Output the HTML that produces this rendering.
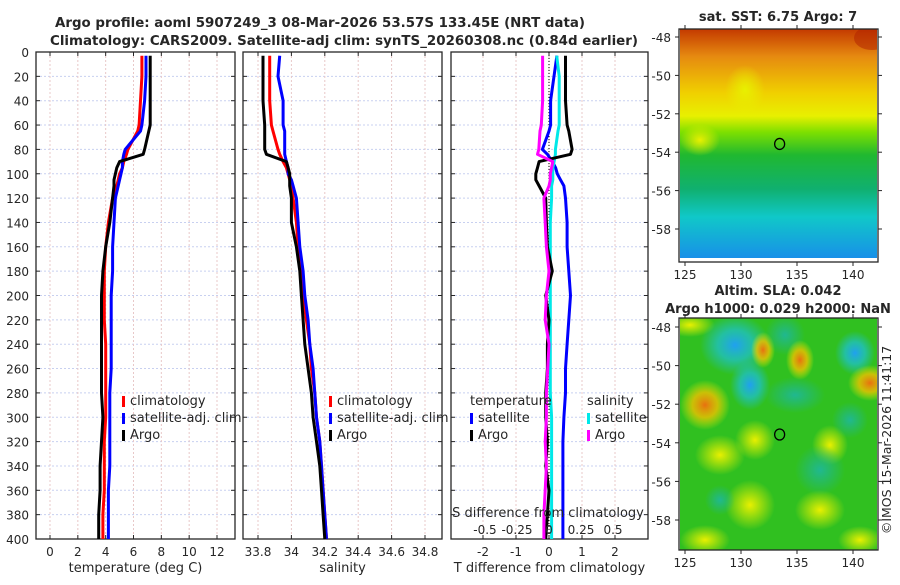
<!DOCTYPE html>
<html><head><meta charset="utf-8"><style>
body{margin:0;background:#fff;width:900px;height:580px;overflow:hidden;font-family:"Liberation Sans","DejaVu Sans",sans-serif}
svg text{font-family:"DejaVu Sans","Liberation Sans",sans-serif}
</style></head><body>
<svg id="c" width="900" height="580" viewBox="0 0 900 580">
<defs>
<clipPath id="clip1"><rect x="680" y="29" width="197" height="229"/></clipPath>
<clipPath id="clip2"><rect x="680" y="318" width="197" height="232"/></clipPath>
<linearGradient id="sstg" x1="0" y1="0" x2="0" y2="1">
<stop offset="0" stop-color="#c43a00"/><stop offset="0.12" stop-color="#e68a10"/><stop offset="0.28" stop-color="#f0d000"/><stop offset="0.38" stop-color="#e8f000"/><stop offset="0.45" stop-color="#7ee000"/><stop offset="0.55" stop-color="#20b830"/><stop offset="0.7" stop-color="#10b070"/><stop offset="0.82" stop-color="#10c8c8"/><stop offset="1" stop-color="#1890e8"/>
</linearGradient>
<radialGradient id="rb"><stop offset="0" stop-color="#20a0f0"/><stop offset="0.5" stop-color="#20c0c0" stop-opacity="0.8"/><stop offset="1" stop-color="#20c0c0" stop-opacity="0"/></radialGradient>
<radialGradient id="ro"><stop offset="0" stop-color="#e87010"/><stop offset="0.5" stop-color="#f0c000" stop-opacity="0.8"/><stop offset="1" stop-color="#e8f000" stop-opacity="0"/></radialGradient>
<radialGradient id="ry"><stop offset="0" stop-color="#e8f000"/><stop offset="1" stop-color="#e8f000" stop-opacity="0"/></radialGradient>
<radialGradient id="rt"><stop offset="0" stop-color="#20b890"/><stop offset="1" stop-color="#20b890" stop-opacity="0"/></radialGradient>
</defs>
</svg>
<script>
const depths=[3,20,40,60,65,80,84,90,95,100,105,110,120,140,160,180,200,220,240,260,280,300,320,340,360,380,400];
const argoT=[7.2,7.2,7.2,7.2,7.1,6.8,6.7,5.0,4.8,4.7,4.6,4.6,4.5,4.3,4.0,3.8,3.7,3.7,3.7,3.7,3.7,3.8,3.7,3.6,3.6,3.5,3.5];
const climT=[6.6,6.6,6.5,6.4,6.3,5.6,5.5,5.3,5.2,5.0,4.9,4.8,4.5,4.2,4.0,3.9,3.9,3.9,4.0,4.0,4.0,4.0,3.9,3.9,3.9,3.8,3.8];
const satT=[6.9,6.9,6.8,6.6,6.5,5.4,5.3,5.2,5.2,5.1,5.0,4.9,4.7,4.6,4.5,4.5,4.4,4.4,4.4,4.4,4.3,4.3,4.3,4.3,4.2,4.2,4.2];
const argoS=[33.83,33.83,33.83,33.84,33.84,33.84,33.85,33.97,33.98,33.99,33.99,33.99,34.0,34.0,34.03,34.05,34.06,34.07,34.08,34.10,34.12,34.13,34.15,34.17,34.18,34.19,34.20];
const climS=[33.87,33.87,33.87,33.88,33.89,33.92,33.93,33.95,33.97,33.98,33.99,34.0,34.01,34.03,34.04,34.06,34.07,34.09,34.11,34.12,34.14,34.15,34.17,34.18,34.19,34.20,34.21];
const satS=[33.93,33.92,33.95,33.95,33.96,33.96,33.96,33.97,33.98,33.98,34.0,34.01,34.03,34.04,34.05,34.07,34.08,34.10,34.11,34.13,34.14,34.15,34.17,34.18,34.19,34.20,34.21];
const dTargo=[0.5,0.5,0.5,0.55,0.6,0.7,0.65,-0.3,-0.35,-0.4,-0.4,-0.3,-0.1,-0.08,-0.05,0.1,-0.1,0.0,-0.05,-0.05,-0.1,-0.1,-0.05,-0.1,0.0,-0.05,-0.1];
const dTsat=[0.24,0.15,0.05,0.05,0.0,-0.2,-0.05,0.1,0.2,0.25,0.35,0.45,0.5,0.55,0.55,0.6,0.65,0.6,0.55,0.5,0.5,0.45,0.42,0.42,0.42,0.42,0.42];
const dSargo=[-0.05,-0.05,-0.05,-0.06,-0.07,-0.08,-0.09,0.03,0.02,0.01,0.01,0.0,-0.04,-0.03,-0.02,0.0,-0.02,-0.03,0.0,-0.01,-0.02,-0.02,-0.03,-0.02,-0.03,-0.04,-0.04];
const dSsat=[0.06,0.08,0.08,0.08,0.07,0.05,0.05,0.04,0.03,0.03,0.03,0.02,0.02,0.01,0.01,0.01,0.01,0.01,0.01,0.01,0.01,0.02,0.02,0.02,0.02,0.02,0.02];
const depthTicks=[0,20,40,60,80,100,120,140,160,180,200,220,240,260,280,300,320,340,360,380,400];
const tTicks=[0,2,4,6,8,10,12];
const sTicks=[33.8,34,34.2,34.4,34.6,34.8];
const tdTicks=[-2,-1,0,1,2];
const sdTicks=[-0.5,-0.25,0,0.25,0.5];
const latTicks=[-48,-50,-52,-54,-56,-58];
const lonTicks=[125,130,135,140];
const argoPos=[133.45,-53.57];

const NS='http://www.w3.org/2000/svg';
const svg=document.getElementById('c');
function el(t,a,p){const e=document.createElementNS(NS,t);for(const k in a)e.setAttribute(k,a[k]);(p||svg).appendChild(e);return e;}
function txt(x,y,s,o){const e=el('text',Object.assign({x:x,y:y,'font-size':13,fill:'#262626','text-anchor':'middle'},o||{}));e.textContent=s;return e;}
const Y0=52,Y1=539;
const yD=d=>Y0+(d/400)*(Y1-Y0);
function lin(v0,p0,v1,p1){return v=>p0+(v-v0)*(p1-p0)/(v1-v0);}
const xT=lin(0,50,12,217), xS=lin(33.8,258,34.8,425), xTD=lin(0,549,2,615), xSD=lin(0,549,0.5,613);

function panel(name,x0,x1,ticks,fx,lab,fmt){
  const g=el('g',{});
  for(const d of depthTicks){el('line',{x1:x0,x2:x1,y1:yD(d),y2:yD(d),stroke:'#c8d0f0','stroke-dasharray':'2,2','stroke-width':1},g);}
  for(const t of ticks){el('line',{x1:fx(t),x2:fx(t),y1:Y0,y2:Y1,stroke:'#e8c8c8','stroke-dasharray':'2,2','stroke-width':1},g);}
  el('rect',{x:x0,y:Y0,width:x1-x0,height:Y1-Y0,fill:'none',stroke:'#262626','stroke-width':1.3},g);
  for(const d of depthTicks){el('line',{x1:x0,x2:x0+4,y1:yD(d),y2:yD(d),stroke:'#262626'},g);el('line',{x1:x1-4,x2:x1,y1:yD(d),y2:yD(d),stroke:'#262626'},g);}
  for(const t of ticks){el('line',{x1:fx(t),x2:fx(t),y1:Y1,y2:Y1-4,stroke:'#262626'},g);el('line',{x1:fx(t),x2:fx(t),y1:Y0,y2:Y0+4,stroke:'#262626'},g);
    const e=txt(fx(t),556,fmt(t),{'font-size':12});}
  const l=txt((x0+x1)/2,572,lab);
  return g;
}
function line(vals,fx,col,name,w){const p=vals.map((v,i)=>fx(v).toFixed(1)+','+yD(depths[i]).toFixed(1)).join(' ');
  const e=el('polyline',{points:p,fill:'none',stroke:col,'stroke-width':w||3,'stroke-linejoin':'round'});
  }

for(const d of depthTicks){const e=txt(29,yD(d)+5,String(d),{'text-anchor':'end','font-size':12});}

panel('temperature-panel',36,235,tTicks,xT,'temperature (deg C)',String);
line(climT,xT,'#ff0000','climatology-temperature-line');
line(satT,xT,'#0000ff','satellite-temperature-line');
line(argoT,xT,'#000000','argo-temperature-line');

panel('salinity-panel',243,442,sTicks,xS,'salinity',t=>String(t));
line(climS,xS,'#ff0000','climatology-salinity-line');
line(satS,xS,'#0000ff','satellite-salinity-line');
line(argoS,xS,'#000000','argo-salinity-line');

panel('difference-panel',451,648,tdTicks,xTD,'T difference from climatology',String);
el('line',{x1:549,x2:549,y1:Y0,y2:Y1,stroke:'#000','stroke-dasharray':'1,2'});
line(dTsat,xTD,'#0000ff','satellite-t-diff-line');
line(dSsat,xSD,'#00e8e8','satellite-s-diff-line');
line(dTargo,xTD,'#000000','argo-t-diff-line');
line(dSargo,xSD,'#ff00ff','argo-s-diff-line');
{const e=txt(548,517,'S difference from climatology');}
for(const t of sdTicks){const e=txt(xSD(t),534,String(t),{'font-size':12});}

function legend(x,y,items,name){const g=el('g',{});
  items.forEach((it,i)=>{if(it[0])el('rect',{x:x,y:y+i*17-9,width:3,height:11,fill:it[0]},g);const e=txt(x+(it[0]?8:0),y+i*17,it[1],{'text-anchor':'start'});g.appendChild(e);});}
legend(122,405,[['#ff0000','climatology'],['#0000ff','satellite-adj. clim'],['#000','Argo']],'temperature-legend');
legend(329,405,[['#ff0000','climatology'],['#0000ff','satellite-adj. clim'],['#000','Argo']],'salinity-legend');
legend(470,405,[[null,'temperature'],['#0000ff','satellite'],['#000','Argo']],'t-diff-legend');
legend(587,405,[[null,'salinity'],['#00e8e8','satellite'],['#ff00ff','Argo']],'s-diff-legend');

{let e=txt(320,27,'Argo profile: aoml 5907249_3 08-Mar-2026 53.57S 133.45E (NRT data)',{'font-weight':'bold','font-size':13,textLength:530,lengthAdjust:'spacingAndGlyphs'});
 e=txt(344,45,'Climatology: CARS2009. Satellite-adj clim: synTS_20260308.nc (0.84d earlier)',{'font-weight':'bold','font-size':13.5,textLength:588,lengthAdjust:'spacingAndGlyphs'});}

const xLon=lin(125,685,140,853);
function map(name,y0,y1,lat0y,lat1y,clip,fillfn){
  const g=el('g',{});
  const gi=el('g',{'clip-path':clip},g);
  fillfn(gi);
  const yL=lin(-48,lat0y,-58,lat1y);
  el('rect',{x:679,y:y0,width:199,height:y1-y0,fill:'none',stroke:'#262626','stroke-width':1.3},g);
  for(const l of latTicks){el('line',{x1:679,x2:675,y1:yL(l),y2:yL(l),stroke:'#262626'},g);el('line',{x1:878,x2:882,y1:yL(l),y2:yL(l),stroke:'#262626'},g);
    const e=txt(671,yL(l)+5,String(l),{'text-anchor':'end','font-size':12});g.appendChild(e);}
  for(const l of lonTicks){el('line',{x1:xLon(l),x2:xLon(l),y1:y1,y2:y1+4,stroke:'#262626'},g);el('line',{x1:xLon(l),x2:xLon(l),y1:y0,y2:y0-4,stroke:'#262626'},g);
    const e=txt(xLon(l),y1+17,String(l),{'font-size':12});g.appendChild(e);}
  const c=el('ellipse',{cx:xLon(argoPos[0]),cy:yL(argoPos[1]),rx:5,ry:5.5,fill:'none',stroke:'#000','stroke-width':1.3},g);
  
}
map('sst-map',29,262,37,229,'url(#clip1)',g=>{
  el('rect',{x:680,y:29,width:197,height:229,fill:'url(#sstg)'},g);
  el('ellipse',{cx:700,cy:140,rx:20,ry:16,fill:'url(#ry)'},g);
  el('ellipse',{cx:872,cy:38,rx:18,ry:12,fill:'#b02000',opacity:0.5},g);
  el('ellipse',{cx:745,cy:90,rx:20,ry:25,fill:'url(#ry)'},g);
});
{let e=txt(778,21,'sat. SST: 6.75 Argo: 7',{'font-weight':'bold'});}
map('sla-map',318,550,327,520,'url(#clip2)',g=>{
  el('rect',{x:680,y:318,width:197,height:232,fill:'#30c020'},g);
  [[690,325,25,12,'url(#ry)'],[735,345,35,30,'url(#rb)'],[750,385,20,25,'url(#rb)'],[763,350,12,18,'url(#ro)'],[785,335,20,20,'url(#rt)'],[800,360,14,20,'url(#ro)'],[795,395,30,18,'url(#rt)'],[855,353,20,22,'url(#rb)'],[870,383,22,18,'url(#ro)'],[705,405,25,25,'url(#ro)'],[720,455,25,20,'url(#ry)'],[750,505,25,25,'url(#ry)'],[705,540,25,15,'url(#ry)'],[820,510,25,20,'url(#ry)'],[830,445,18,20,'url(#ry)'],[755,440,20,20,'url(#ry)'],[860,540,22,14,'url(#ry)'],[820,470,25,25,'url(#rt)'],[720,500,15,15,'url(#rt)'],[850,420,18,18,'url(#rt)']].forEach(b=>el('ellipse',{cx:b[0],cy:b[1],rx:b[2],ry:b[3],fill:b[4]},g));
});
{let e=txt(778,295,'Altim. SLA: 0.042',{'font-weight':'bold'});
 e=txt(778,313,'Argo h1000: 0.029 h2000: NaN',{'font-weight':'bold'});
 e=txt(0,0,'©IMOS 15-Mar-2026 11:41:17',{transform:'translate(891,440) rotate(-90)','font-size':12.5});}
</script>
</body></html>
